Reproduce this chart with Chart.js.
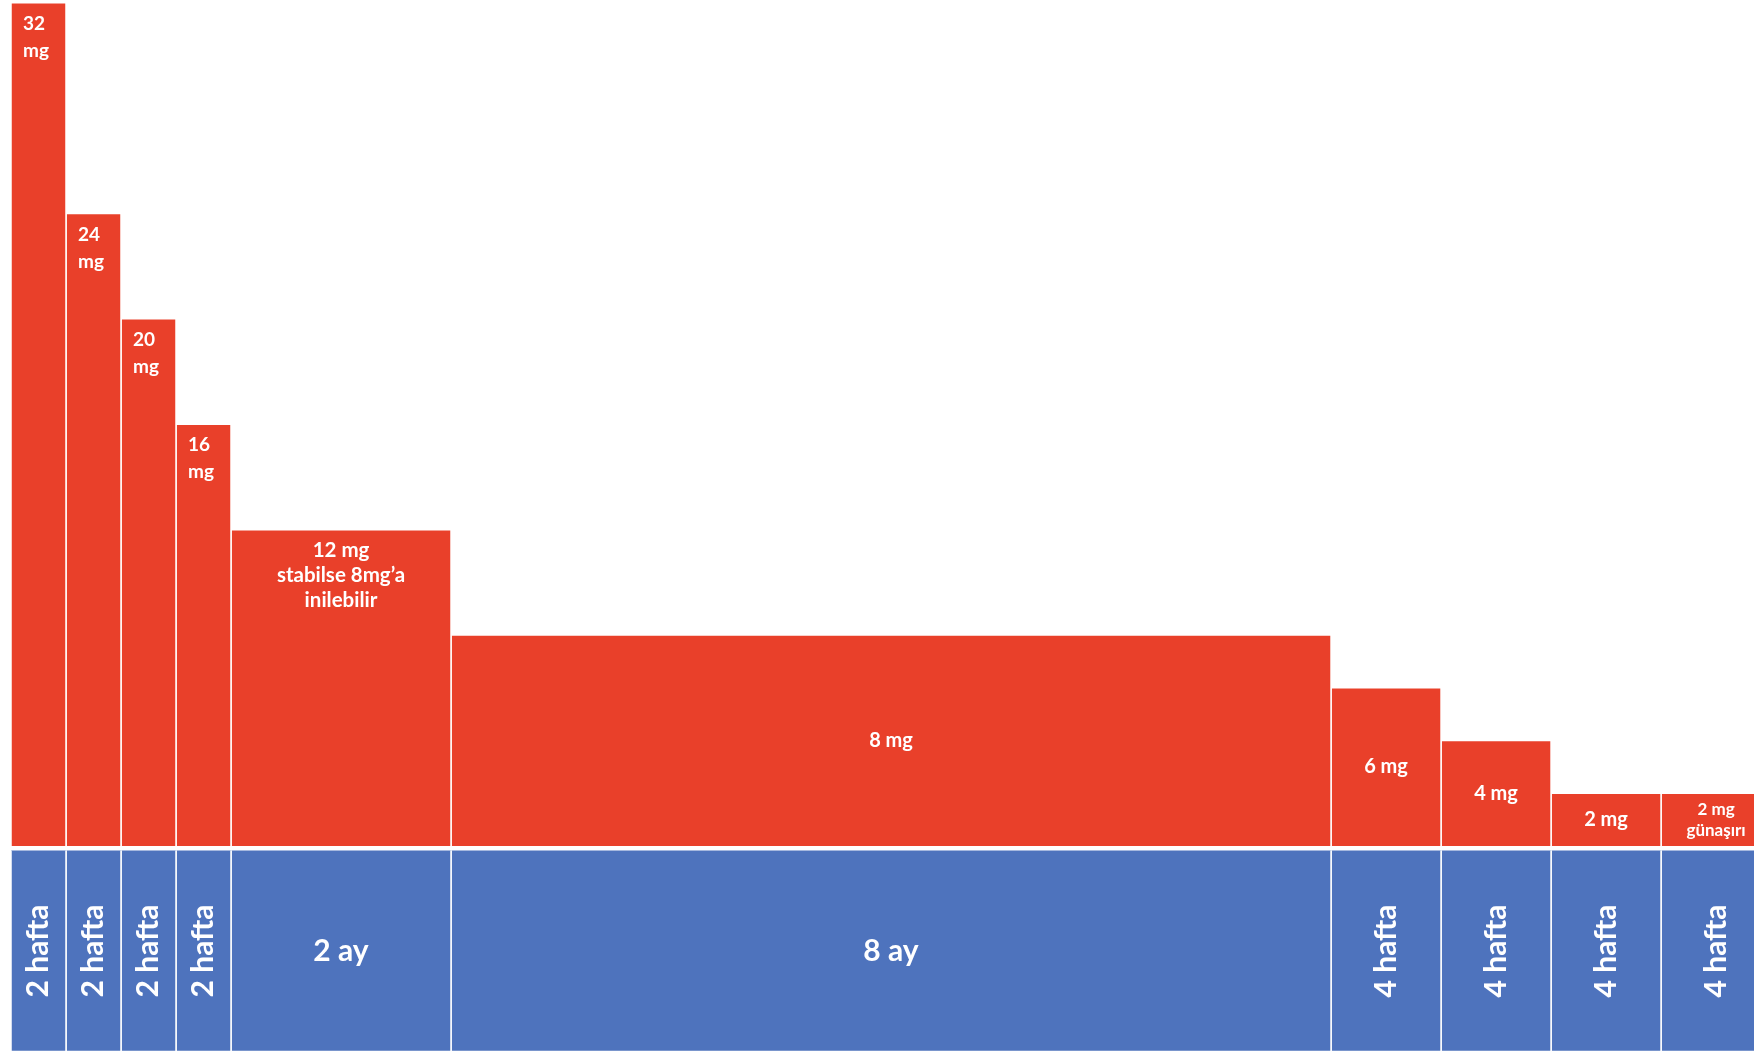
<!DOCTYPE html>
<html lang="tr">
<head>
    <meta charset="UTF-8" />
    <title>Doz azaltma şeması</title>
    <script src="https://cdn.jsdelivr.net/npm/chart.js"></script>
    <style>
        body {
            margin: 0;
            padding: 0;
            background: #fff;
        }

        .wrap {
            width: 1754px;
            height: 1052px;
            position: relative;
        }
    </style>
</head>
<body>
    <div class="wrap">
        <canvas id="doseChart"></canvas>
    </div>

    <script>
        // doz (mg) ve süre (hafta) her basamak için
        const doses = [32, 24, 20, 16, 12, 8, 6, 4, 2, 2];
        const weeks = [2, 2, 2, 2, 8, 32, 4, 4, 4, 4];
        const doseLabels = [
            ['32', 'mg'], ['24', 'mg'], ['20', 'mg'], ['16', 'mg'],
            ['12 mg', 'stabilse 8mg’a', 'inilebilir'],
            ['8 mg'], ['6 mg'], ['4 mg'], ['2 mg'], ['2 mg', 'günaşırı']
        ];
        const durationLabels = ['2 hafta', '2 hafta', '2 hafta', '2 hafta', '2 ay', '8 ay', '4 hafta', '4 hafta', '4 hafta', '4 hafta'];

        const red = '#E9402A';
        const blue = '#4E73BD';
        const bandTop = -0.17, bandBottom = -7.8;
        const fontFamily = 'Lato, "Open Sans", sans-serif';

        // başlangıç haftaları
        const starts = [];
        let acc = 0;
        weeks.forEach(w => { starts.push(acc); acc += w; });

        const datasets = [];
        doses.forEach((d, i) => {
            const s = starts[i], e = s + weeks[i];
            datasets.push({
                data: [{ x: s, y: 0 }, { x: s, y: d }, { x: e, y: d }, { x: e, y: 0 }],
                backgroundColor: red,
                borderColor: '#fff',
                borderWidth: 1.5,
                fill: 'origin',
                pointRadius: 0,
                tension: 0
            });
            datasets.push({
                data: [{ x: s, y: bandTop }, { x: s, y: bandBottom }, { x: e, y: bandBottom }, { x: e, y: bandTop }],
                backgroundColor: blue,
                borderColor: '#fff',
                borderWidth: 1.5,
                fill: { value: bandTop },
                pointRadius: 0,
                tension: 0
            });
        });

        const labelPlugin = {
            id: 'labels',
            afterDatasetsDraw(chart) {
                const ctx = chart.ctx;
                const xs = chart.scales.x, ys = chart.scales.y;
                ctx.save();
                ctx.fillStyle = '#fff';
                ctx.textBaseline = 'middle';
                doses.forEach((d, i) => {
                    const x0 = xs.getPixelForValue(starts[i]);
                    const x1 = xs.getPixelForValue(starts[i] + weeks[i]);
                    const yTop = ys.getPixelForValue(d);
                    const yBase = ys.getPixelForValue(0);
                    const lines = doseLabels[i];

                    if (weeks[i] < 4) {
                        // dar sütun: üstte, sola yaslı
                        ctx.font = 'bold 19px ' + fontFamily;
                        ctx.textAlign = 'left';
                        lines.forEach((t, k) => ctx.fillText(t, x0 + 12, yTop + 21 + k * 27));
                    } else if (lines.length > 2) {
                        ctx.font = 'bold 20.5px ' + fontFamily;
                        ctx.textAlign = 'center';
                        lines.forEach((t, k) => ctx.fillText(t, (x0 + x1) / 2, yTop + 21 + k * 25));
                    } else if (lines.length === 2) {
                        ctx.font = 'bold 17px ' + fontFamily;
                        ctx.textAlign = 'center';
                        const yc = (yTop + yBase) / 2;
                        lines.forEach((t, k) => ctx.fillText(t, (x0 + x1) / 2, yc - 10 + k * 21));
                    } else {
                        ctx.font = 'bold 20px ' + fontFamily;
                        ctx.textAlign = 'center';
                        ctx.fillText(lines[0], (x0 + x1) / 2, (yTop + yBase) / 2);
                    }

                    // süre etiketi
                    const bx = (x0 + x1) / 2;
                    const by = (ys.getPixelForValue(bandTop) + ys.getPixelForValue(bandBottom)) / 2;
                    ctx.font = 'bold 30px ' + fontFamily;
                    ctx.textAlign = 'center';
                    if (weeks[i] < 8) {
                        ctx.save();
                        ctx.translate(bx, by);
                        ctx.rotate(-Math.PI / 2);
                        ctx.fillText(durationLabels[i], 0, 0);
                        ctx.restore();
                    } else {
                        ctx.fillText(durationLabels[i], bx, by);
                    }
                });
                ctx.restore();
            }
        };

        new Chart(document.getElementById('doseChart').getContext('2d'), {
            type: 'line',
            data: { datasets },
            options: {
                responsive: true,
                maintainAspectRatio: false,
                animation: false,
                layout: { padding: 0 },
                plugins: {
                    legend: { display: false },
                    tooltip: { enabled: false }
                },
                scales: {
                    x: { type: 'linear', min: -0.4, max: 63.38, display: false },
                    y: { min: -7.82, max: 32.1, display: false }
                }
            },
            plugins: [labelPlugin]
        });
    </script>
</body>
</html>
